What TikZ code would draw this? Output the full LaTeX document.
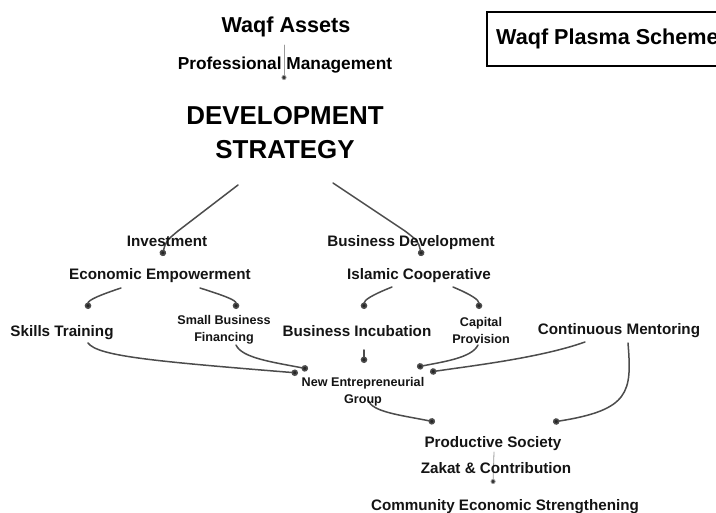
\documentclass[tikz,border=0pt]{standalone}
\usepackage{fontspec}
\setmainfont{Liberation Sans}
\usetikzlibrary{arrows.meta}
\begin{document}
\begin{tikzpicture}[x=1pt,y=-1pt,
  lbl/.style={font=\fontsize{15.2}{18}\selectfont\bfseries, inner sep=0pt, anchor=base, text=black!92},
  sm/.style={font=\fontsize{12.6}{17}\selectfont\bfseries, inner sep=0pt, anchor=base, align=center, text=black!92},
  conn/.style={draw=black!70, line width=1.5pt, line cap=round, -{Circle[length=6.5pt,width=6.5pt,fill=black!85]}},
  faint/.style={draw=black!40, line width=0.8pt, line cap=round, -{Circle[length=5pt,width=5pt,fill=black!80]}}]
\useasboundingbox (0,0) rectangle (716,513);
\clip (0,0) rectangle (716,513);
\fill[white] (0,0) rectangle (716,513);

% connector end points
\coordinate (wa1) at (284,45);   \coordinate (wa2) at (284,80);
\coordinate (ds1) at (238,185);  \coordinate (ds1m) at (178,231); \coordinate (ds1e) at (162,256);
\coordinate (ds2) at (333,183);  \coordinate (ds2m) at (405,231); \coordinate (ds2e) at (422,256);
\coordinate (ee1) at (121,288);  \coordinate (st1) at (88,309);
\coordinate (ee2) at (200,288);  \coordinate (sb1) at (236,309);
\coordinate (ic1) at (392,287);  \coordinate (bi1) at (364,309);
\coordinate (ic2) at (453,287);  \coordinate (cp1) at (479,309);
\coordinate (bi2) at (364,350);  \coordinate (ng1) at (364,363);
\coordinate (st2) at (88,343);   \coordinate (ng2) at (298,373);
\coordinate (sb2) at (236,345);  \coordinate (ng3) at (308,369);
\coordinate (cp2) at (478,345);  \coordinate (ng4) at (417,367);
\coordinate (cm1) at (585,342);  \coordinate (ng5) at (430,372);
\coordinate (cm2) at (628,343);  \coordinate (ps1) at (553,422);
\coordinate (ng6) at (368,400);  \coordinate (ps2) at (435,422);
\coordinate (ps3) at (494,452);  \coordinate (ce1) at (493,484);

% connectors
\draw[faint] (wa1) -- (wa2);
\draw[conn] (ds1) -- (ds1m) .. controls (166,241) .. (ds1e);
\draw[conn] (ds2) -- (ds2m) .. controls (418,241) .. (ds2e);
\draw[conn] (ee1) .. controls (100,295) and (88,300) .. (st1);
\draw[conn] (ee2) .. controls (225,296) and (236,300) .. (sb1);
\draw[conn] (ic1) .. controls (372,295) and (364,300) .. (bi1);
\draw[conn] (ic2) .. controls (472,295) and (479,300) .. (cp1);
\draw[conn] (bi2) -- (ng1);
\draw[conn] (st2) .. controls (98,356) and (150,361) .. (ng2);
\draw[conn] (sb2) .. controls (242,358) and (272,362) .. (ng3);
\draw[conn] (cp2) .. controls (472,358) and (442,362) .. (ng4);
\draw[conn] (cm1) .. controls (540,358) and (470,366) .. (ng5);
\draw[conn] (cm2) .. controls (632,392) and (630,410) .. (ps1);
\draw[conn] (ng6) .. controls (372,412) and (400,415) .. (ps2);
\draw[faint] (ps3) -- (ce1);

% title box
\draw[line width=2pt] (487,12) rectangle (760,66);
\node[font=\fontsize{21.6}{24}\selectfont\bfseries, inner sep=0pt, anchor=base west] (plasma) at (496,45) {Waqf Plasma Scheme};

% nodes
\node[font=\fontsize{21.6}{24}\selectfont\bfseries, inner sep=0pt, anchor=base] (wa) at (286,33) {Waqf Assets};
\node[font=\fontsize{17.3}{20}\selectfont\bfseries, inner sep=0pt, anchor=base] (pm) at (285,70) {Professional Management};
\node[font=\fontsize{25.9}{34}\selectfont\bfseries, inner sep=0pt, anchor=base, align=center] (ds) at (285,159) {DEVELOPMENT\\STRATEGY};

\node[lbl] (inv) at (167,246.5) {Investment};
\node[lbl] (ee) at (160,279.5) {Economic Empowerment};
\node[lbl] (bd) at (411,246.5) {Business Development};
\node[lbl] (ic) at (419,279.5) {Islamic Cooperative};
\node[lbl] (st) at (62,336.5) {Skills Training};
\node[sm] (sb) at (224,341.5) {Small Business\\Financing};
\node[lbl] (bi) at (357,336.5) {Business Incubation};
\node[sm] (cp) at (481,343.5) {Capital\\Provision};
\node[lbl] (cm) at (619,334.5) {Continuous Mentoring};
\node[sm] (ng) at (363,403.5) {New Entrepreneurial\\Group};
\node[lbl] (ps) at (493,447.5) {Productive Society};
\node[lbl] (zc) at (496,473.5) {Zakat \& Contribution};
\node[lbl] (ce) at (505,510.5) {Community Economic Strengthening};
\end{tikzpicture}
\end{document}
